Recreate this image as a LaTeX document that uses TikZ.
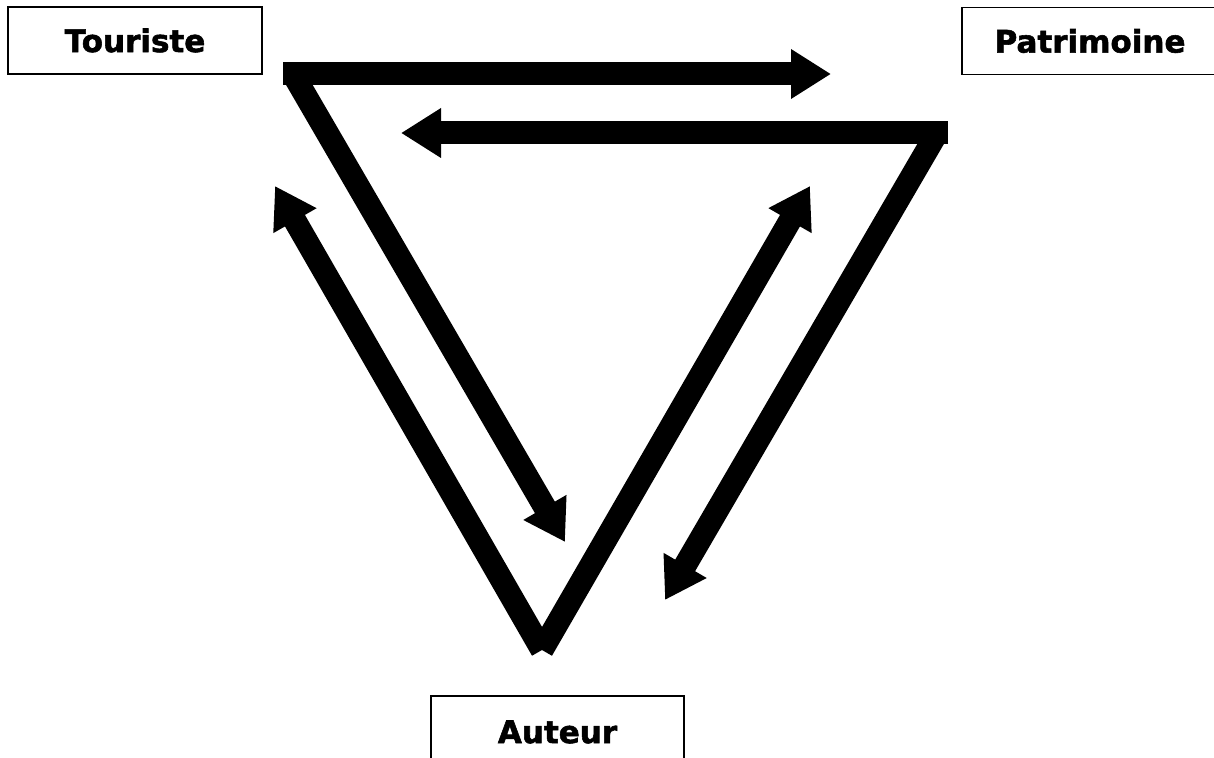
\documentclass[tikz,border=0pt]{standalone}
\usepackage{fontspec}
\setmainfont{DejaVu Sans}[BoldFeatures={FakeBold=1.8}]
\usetikzlibrary{arrows.meta, positioning}

\begin{document}
\begin{tikzpicture}[x=0.5pt, y=-0.5pt, font=\bfseries\fontsize{15.5}{18}\selectfont,
  boite/.style={draw, line width=0.8pt, minimum height=33.5pt, inner sep=0pt},
  fleche/.style={line width=11.5pt, -{Triangle[length=20pt, width=23.5pt]}}]
\useasboundingbox (0,0) rectangle (1214,758);
% les trois pôles
\node[boite, minimum width=127pt] (tour) at (135,40.5) {Touriste};
\node[boite, minimum width=128pt] (patr) at (1090,41) {Patrimoine};
\node[boite, minimum width=126.5pt, minimum height=36pt] (aut) at (557.5,732) {Auteur};
% coins du triangle et pointes
\coordinate (t1) at (283,74);  \coordinate (p1) at (831,74);
\coordinate (p2) at (948,133); \coordinate (t2) at (401,133);
\coordinate (t3) at (293,74);  \coordinate (a3) at (565,542);
\coordinate (p4) at (937,133); \coordinate (a4) at (665,600);
\coordinate (a5) at (542,650); \coordinate (t5) at (275,186);
\coordinate (p6) at (810,186);
\foreach \from/\to in {t1/p1, p2/t2, t3/a3, p4/a4, a5/t5, a5/p6}
  \draw[fleche] (\from) -- (\to);
\end{tikzpicture}
\end{document}
